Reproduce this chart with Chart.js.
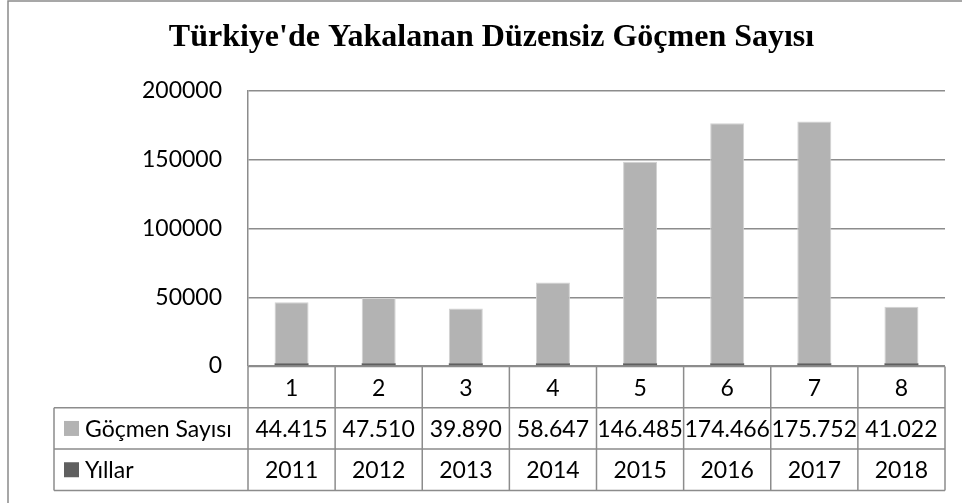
<!DOCTYPE html>
<html>
<head>
<meta charset="utf-8">
<script src="https://cdn.jsdelivr.net/npm/chart.js@4/dist/chart.umd.min.js"></script>
<style>
  html, body { margin: 0; padding: 0; background: #fff; }
</style>
</head>
<body>
<canvas id="grafik" width="962" height="503"></canvas>
<script>
// veriler
const siraNo = ['1', '2', '3', '4', '5', '6', '7', '8'];
const yillar = [2011, 2012, 2013, 2014, 2015, 2016, 2017, 2018];
const gocmenSayisi = [44415, 47510, 39890, 58647, 146485, 174466, 175752, 41022];
const seriAdlari = ['Göçmen Sayısı', 'Yıllar'];
const eksenMax = 200000;
const eksenAdim = 50000;

const renkAcik = '#b3b3b3';
const renkKoyu = '#5f5f5f';
const cizgiRengi = '#8c8c8c';
const yaziFontu = 'Lato, "Open Sans", sans-serif';

// Türkçe sayı biçimi (44.415)
function sayiBicim(v) {
  return v.toLocaleString('tr-TR');
}

// Excel tarzı veri tablosu ve dış çerçeve
const veriTablosu = {
  id: 'veriTablosu',
  beforeDraw(chart) {
    const ctx = chart.ctx;
    ctx.save();
    ctx.strokeStyle = '#8a8a8a';
    ctx.lineWidth = 1.5;
    ctx.beginPath();
    ctx.moveTo(8, chart.height + 2);
    ctx.lineTo(8, 1);
    ctx.lineTo(chart.width + 2, 1);
    ctx.stroke();
    ctx.restore();
  },
  afterDraw(chart) {
    const { ctx, chartArea } = chart;
    const x = chart.scales.x;
    const sol = chartArea.left, sag = chartArea.right;
    const adim = x.getPixelForValue(1) - x.getPixelForValue(0);
    const y0 = chartArea.bottom + 0.5;
    const satir = 41.3;
    const etiketSol = 54;

    ctx.save();
    ctx.strokeStyle = cizgiRengi;
    ctx.lineWidth = 1.5;
    ctx.beginPath();
    // yatay çizgiler
    ctx.moveTo(sol, y0); ctx.lineTo(sag, y0);
    for (let r = 1; r <= 3; r++) {
      ctx.moveTo(etiketSol, y0 + r * satir);
      ctx.lineTo(sag, y0 + r * satir);
    }
    // dikey çizgiler
    ctx.moveTo(etiketSol, y0 + satir); ctx.lineTo(etiketSol, y0 + 3 * satir);
    for (let i = 0; i <= siraNo.length; i++) {
      const xx = x.getPixelForValue(i) - adim / 2;
      ctx.moveTo(xx, y0); ctx.lineTo(xx, y0 + 3 * satir);
    }
    ctx.stroke();

    ctx.fillStyle = '#000';
    ctx.font = '23px ' + yaziFontu;
    ctx.textAlign = 'center';
    ctx.textBaseline = 'middle';
    siraNo.forEach((s, i) => {
      const cx = x.getPixelForValue(i);
      ctx.fillText(s, cx, y0 + satir * 0.5 + 1);
      ctx.fillText(sayiBicim(gocmenSayisi[i]), cx, y0 + satir * 1.5 + 1);
      ctx.fillText(String(yillar[i]), cx, y0 + satir * 2.5 + 1);
    });

    // seri etiketleri
    ctx.textAlign = 'left';
    [renkAcik, renkKoyu].forEach((renk, r) => {
      const cy = y0 + satir * (1.5 + r);
      ctx.fillStyle = renk;
      ctx.fillRect(64, cy - 7.5, 15, 15);
      ctx.fillStyle = '#000';
      ctx.fillText(seriAdlari[r], 85, cy + 1);
    });
    ctx.restore();
  }
};

const config = {
  type: 'bar',
  data: {
    labels: siraNo,
    datasets: [{
      label: 'Yıllar',
      data: yillar,
      backgroundColor: renkKoyu,
      borderWidth: 0
    }, {
      label: 'Göçmen Sayısı',
      data: gocmenSayisi,
      backgroundColor: renkAcik,
      borderColor: '#d2d2d2',
      borderWidth: 1
    }]
  },
  options: {
    responsive: false,
    animation: false,
    layout: {
      padding: { left: 38, right: 17, top: 0, bottom: 137 }
    },
    datasets: {
      bar: { barPercentage: 0.39, categoryPercentage: 1 }
    },
    scales: {
      x: {
        stacked: true,
        display: false
      },
      y: {
        stacked: true,
        min: 0,
        max: eksenMax,
        afterFit(scale) { scale.width = 210; },
        ticks: {
          stepSize: eksenAdim,
          padding: 26,
          color: '#000',
          font: { family: yaziFontu, size: 23 },
          callback: (v) => String(v)
        },
        grid: {
          color: cizgiRengi,
          lineWidth: 1.5,
          drawTicks: false
        },
        border: { display: true, color: cizgiRengi, width: 1.5 }
      }
    },
    plugins: {
      legend: { display: false },
      tooltip: { enabled: false },
      title: {
        display: true,
        text: "Türkiye'de Yakalanan Düzensiz Göçmen Sayısı",
        color: '#000',
        font: { family: '"Liberation Serif", "Times New Roman", serif', size: 32, weight: 'bold', lineHeight: 1.2 },
        padding: { top: 19, bottom: 33.6 }
      }
    }
  },
  plugins: [veriTablosu]
};

const grafik = new Chart(document.getElementById('grafik'), config);
</script>
</body>
</html>
